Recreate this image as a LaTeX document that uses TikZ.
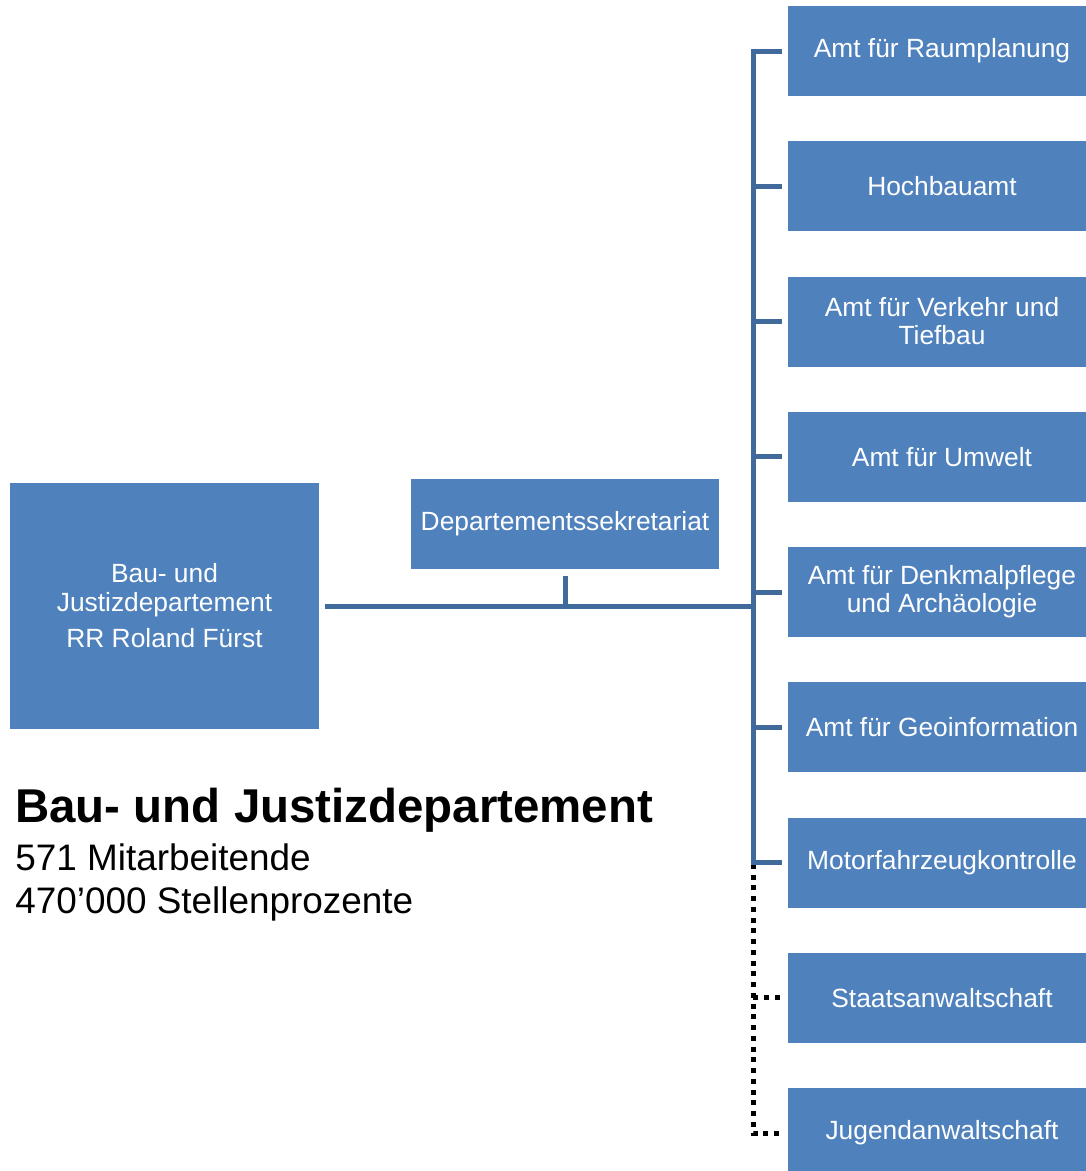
\documentclass[tikz,border=0pt]{standalone}
\usepackage{fontspec}
\setmainfont{Liberation Sans}
\definecolor{boxblue}{HTML}{4F81BD}
\definecolor{lineblue}{HTML}{3F6A9B}
\begin{document}
\begin{tikzpicture}[x=0.02cm, y=-0.02cm,
	unit/.style={fill=boxblue, text=white, align=center, inner sep=2pt,
		font=\fontsize{15}{16}\selectfont},
	amt/.style={unit, minimum width=6.16cm, minimum height=1.8cm},
	conn/.style={draw=lineblue, line width=0.1cm},
	dotline/.style={draw=black, line width=0.1cm, dash pattern=on 0.1cm off 0.115cm}]
	\useasboundingbox (0,0) rectangle (1086,1171);
	\node (chief) [unit, minimum width=6.18cm, minimum height=4.92cm] at (164.5,606) {Bau- und\\Justizdepartement\\[5pt]RR Roland Fürst};
	\node (secr) [unit, minimum width=6.16cm, minimum height=1.8cm] at (565,524) {Departementssekretariat};
	\node (amt1) [amt] at (942,51) {Amt für Raumplanung};
	\node (amt2) [amt] at (942,186.25) {Hochbauamt};
	\node (amt3) [amt] at (942,321.5) {Amt für Verkehr und\\Tiefbau};
	\node (amt4) [amt] at (942,456.75) {Amt für Umwelt};
	\node (amt5) [amt] at (942,592) {Amt für Denkmalpflege\\und Archäologie};
	\node (amt6) [amt] at (942,727.25) {Amt für Geoinformation};
	\node (amt7) [amt] at (942,862.5) {Motorfahrzeugkontrolle};
	\node (amt8) [amt] at (942,997.75) {Staatsanwaltschaft};
	\node (amt9) [amt] at (942,1133) {Jugendanwaltschaft};
	\coordinate (bus) at (753,606);
	\draw [dotline] (bus) -- (bus |- amt9.west) -- ([xshift=-0.12cm]amt9.west);
	\draw [dotline] (bus |- amt8.west) -- ([xshift=-0.12cm]amt8.west);
	\draw [conn] ([xshift=0.12cm]chief.east) -- (bus);
	\draw [conn] ([yshift=-0.14cm]secr.south) -- (secr.south |- bus);
	\draw [conn, line cap=rect] (bus |- amt1.west) -- (bus |- amt7.west);
	\draw [conn] (bus |- amt1.west) -- ([xshift=-0.12cm]amt1.west);
	\draw [conn] (bus |- amt2.west) -- ([xshift=-0.12cm]amt2.west);
	\draw [conn] (bus |- amt3.west) -- ([xshift=-0.12cm]amt3.west);
	\draw [conn] (bus |- amt4.west) -- ([xshift=-0.12cm]amt4.west);
	\draw [conn] (bus |- amt5.west) -- ([xshift=-0.12cm]amt5.west);
	\draw [conn] (bus |- amt6.west) -- ([xshift=-0.12cm]amt6.west);
	\draw [conn] (bus |- amt7.west) -- ([xshift=-0.12cm]amt7.west);
	\node (title) [anchor=base west, inner sep=0, font=\fontsize{27}{30}\selectfont\bfseries] at (15,822) {Bau- und Justizdepartement};
	\node (staff) [anchor=base west, inner sep=0, font=\fontsize{21}{24}\selectfont] at (15,870) {571 Mitarbeitende};
	\node (pct) [anchor=base west, inner sep=0, font=\fontsize{21}{24}\selectfont] at (15,913) {470’000 Stellenprozente};
\end{tikzpicture}
\end{document}
